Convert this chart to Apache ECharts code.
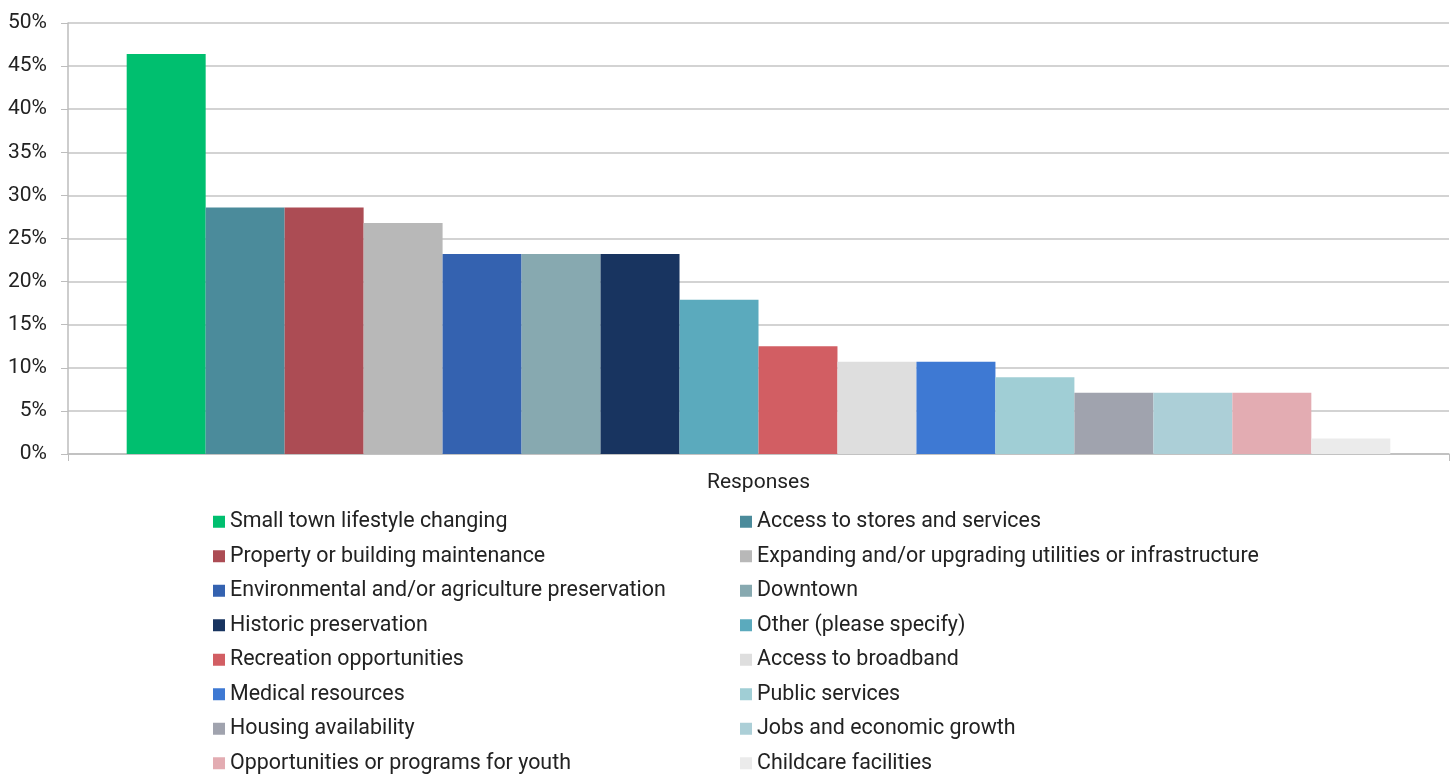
<!DOCTYPE html>
<html>
<head>
<meta charset="utf-8">
<script src="https://cdn.jsdelivr.net/npm/echarts@6/dist/echarts.min.js"></script>
<style>
html,body{margin:0;padding:0;background:#fff;}
#chart{width:1455px;height:777px;}
</style>
</head>
<body>
<div id="chart"></div>
<script>
const categories = ['Responses'];
const seriesNames = [
  'Small town lifestyle changing',
  'Access to stores and services',
  'Property or building maintenance',
  'Expanding and/or upgrading utilities or infrastructure',
  'Environmental and/or agriculture preservation',
  'Downtown',
  'Historic preservation',
  'Other (please specify)',
  'Recreation opportunities',
  'Access to broadband',
  'Medical resources',
  'Public services',
  'Housing availability',
  'Jobs and economic growth',
  'Opportunities or programs for youth',
  'Childcare facilities'
];
const seriesValues = [46.4, 28.6, 28.6, 26.8, 23.2, 23.2, 23.2, 17.9, 12.5, 10.7, 10.7, 8.9, 7.1, 7.1, 7.1, 1.8];
const seriesColors = ['#00BF6F','#4B8B9B','#AC4C54','#B8B8B8','#3462B0','#87A9B0','#183460','#5BAABD',
                      '#D25E63','#DEDEDE','#3E79D3','#A0CED5','#A0A3AE','#ACCFD7','#E3ACB2','#EBEBEB'];
const yTicks = { min: 0, max: 50, interval: 5 };

const chart = echarts.init(document.getElementById('chart'), null, { renderer: 'canvas' });
const FONT = 'Roboto';
const TXT = '#222222';
const option = {
  animation: false,
  textStyle: { fontFamily: FONT },
  grid: { left: 68, right: 6, top: 23, bottom: 323, containLabel: false },
  legend: {
    left: 213, top: 509.5, width: 1150, padding: 0,
    orient: 'horizontal',
    itemWidth: 12, itemHeight: 12, itemGap: 10,
    icon: 'rect',
    textStyle: { fontFamily: FONT, fontSize: 21.4, color: TXT, width: 500, lineHeight: 24.5, overflow: 'none' },
    data: seriesNames
  },
  xAxis: {
    type: 'category',
    data: categories,
    axisLine: { show: true, lineStyle: { color: '#bdbdbd', width: 1.5 } },
    axisTick: { show: true, length: 7, lineStyle: { color: '#bdbdbd' } },
    axisLabel: { fontFamily: FONT, fontSize: 21, color: TXT, margin: 18 }
  },
  yAxis: {
    type: 'value',
    min: yTicks.min, max: yTicks.max, interval: yTicks.interval,
    axisLine: { show: true, lineStyle: { color: '#bdbdbd', width: 1.5 } },
    axisTick: { show: true, length: 7, lineStyle: { color: '#bdbdbd' } },
    axisLabel: { formatter: '{value}%', fontFamily: FONT, fontSize: 21, color: TXT, margin: 21 },
    splitLine: { show: true, lineStyle: { color: '#c4c4c4', width: 1.5 } }
  },
  series: seriesNames.map((name, i) => ({
    name: name,
    type: 'bar',
    data: [seriesValues[i]],
    itemStyle: { color: seriesColors[i] },
    barGap: '0%',
    barCategoryGap: '8.5%'
  }))
};
chart.setOption(option);
</script>
</body>
</html>
